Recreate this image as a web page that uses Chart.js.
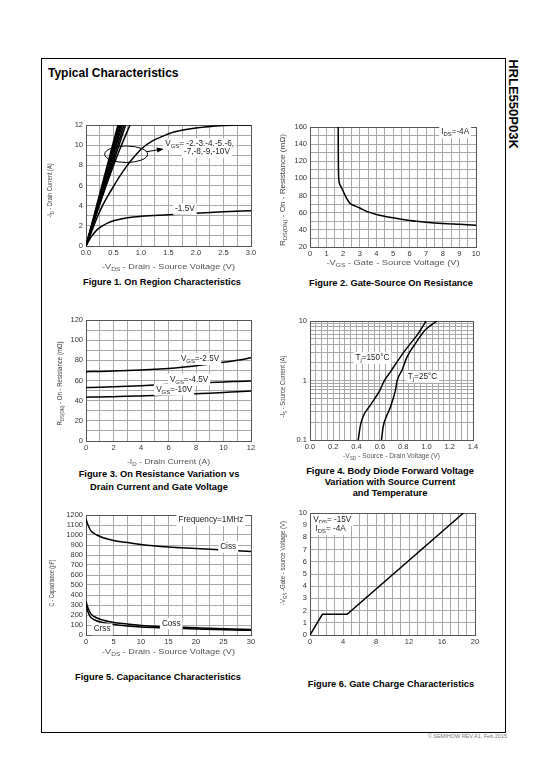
<!DOCTYPE html>
<html>
<head>
<meta charset="utf-8">
<script src="https://cdn.jsdelivr.net/npm/chart.js@4.4.1/dist/chart.umd.min.js"></script>
<style>
  body { margin: 0; background: #fff; }
  #page { position: relative; width: 540px; height: 780px; overflow: hidden; font-family: "Liberation Sans", Arial, sans-serif; }
  .abs { position: absolute; }
  .cap { position: absolute; width: 240px; text-align: center; font-weight: bold; font-size: 9.3px; line-height: 11px; color: #000; white-space: nowrap; }
  canvas { position: absolute; }
</style>
</head>
<body>
<div id="page">
  <div class="abs" style="left:41px;top:58px;width:463px;height:673px;border:1px solid #000;"></div>
  <div class="abs" style="left:48px;top:66px;font-weight:bold;font-size:12px;">Typical Characteristics</div>
  <div class="abs" style="left:513px;top:104px;transform:translate(-50%,-50%) rotate(90deg);font-weight:bold;font-size:13px;white-space:nowrap;">HRLE550P03K</div>
  <div class="abs" style="right:33px;top:733px;font-size:5.5px;color:#777;white-space:nowrap;">&copy; SEMIHOW REV.A1, Feb 2015</div>

  <div class="cap" style="left:42px;top:277px;">Figure 1. On Region Characteristics</div>
  <div class="cap" style="left:271px;top:278px;">Figure 2. Gate-Source On Resistance</div>
  <div class="cap" style="left:39px;top:468px;line-height:13px;">Figure 3. On Resistance Variation vs<br>Drain Current and Gate Voltage</div>
  <div class="cap" style="left:270px;top:466px;">Figure 4. Body Diode Forward Voltage<br>Variation with Source Current<br>and Temperature</div>
  <div class="cap" style="left:38px;top:672px;">Figure 5. Capacitance Characteristics</div>
  <div class="cap" style="left:271px;top:679px;">Figure 6. Gate Charge Characteristics</div>
</div>

<script>
// ---- Figure 1: On region (-VDS vs -ID) ----
const fig1XLabels = ['0.0', '0.5', '1.0', '1.5', '2.0', '2.5', '3.0'];
const fig1YLabels = ['0', '2', '4', '6', '8', '10', '12'];
const fig1Vds15 = [0, 0.05, 0.1, 0.2, 0.3, 0.4, 0.5, 0.75, 1.0, 1.5, 2.0, 2.5, 3.0];
const fig1Id15 = [0, 0.5, 0.95, 1.6, 2.0, 2.3, 2.5, 2.8, 2.95, 3.1, 3.25, 3.4, 3.5];
const fig1Vds2 = [0, 0.1, 0.2, 0.3, 0.4, 0.5, 0.6, 0.75, 0.9, 1.0, 1.2, 1.4, 1.6, 2.0, 2.5, 2.8, 3.0];
const fig1Id2 = [0, 1.4, 2.8, 4.0, 5.0, 5.9, 6.8, 8.0, 9.0, 9.6, 10.4, 10.9, 11.3, 11.7, 11.95, 12.0, 12.0];
const fig1Vds3 = [0, 0.2, 0.4, 0.6, 0.8];
const fig1Id3 = [0, 3.4, 6.5, 9.4, 12];
// -4V .. -10V reach 12 A at these -VDS values
const fig1SteepVdsAt12 = [0.72, 0.69, 0.66, 0.64, 0.62, 0.60, 0.58];

// ---- Figure 2: RDS(on) vs -VGS ----
const fig2XLabels = ['0', '1', '2', '3', '4', '5', '6', '7', '8', '9', '10'];
const fig2YLabels = ['20', '40', '60', '80', '100', '120', '140', '160'];
const fig2Vgs = [1.70, 1.705, 1.715, 1.74, 1.85, 2.0, 2.2, 2.4, 2.7, 3.0, 3.5, 4.0, 5.0, 6.0, 7.0, 8.0, 9.0, 10.0];
const fig2Rds = [160, 130, 110, 98, 91, 85, 77, 71, 68, 65.5, 61, 58, 54, 51, 49, 47.5, 46.5, 45.5];

// ---- Figure 3: RDS(on) vs -ID ----
const fig3XLabels = ['0', '2', '4', '6', '8', '10', '12'];
const fig3YLabels = ['0', '20', '40', '60', '80', '100', '120'];
const fig3Id = [0, 1, 2, 3, 4, 5, 6, 7, 8, 9, 10, 11, 12];
const fig3Rds25 = [68.8, 69, 69.3, 69.8, 70.4, 71.2, 72, 73.2, 74.7, 76.3, 78, 80, 82.5];
const fig3Rds45 = [53, 53.3, 53.7, 54.2, 54.8, 55.5, 56.3, 57, 57.5, 58, 58.6, 59.1, 59.6];
const fig3Rds10 = [43.5, 43.7, 44, 44.3, 44.7, 45.1, 45.6, 46.2, 46.8, 47.4, 48.1, 48.9, 49.6];

// ---- Figure 4: body diode (-VSD vs -IS, log) ----
const fig4XLabels = ['0.0', '0.2', '0.4', '0.6', '0.8', '1.0', '1.2', '1.4'];
const fig4YLabels = ['0.1', '1', '10'];
const fig4Vsd150 = [0.414, 0.434, 0.457, 0.52, 0.60, 0.634, 0.691, 0.777, 0.863, 0.92, 0.997];
const fig4Is150 = [0.1, 0.18, 0.25, 0.39, 0.68, 0.96, 1.4, 2.5, 4.2, 5.8, 10];
const fig4Vsd25 = [0.614, 0.629, 0.657, 0.691, 0.734, 0.749, 0.791, 0.834, 0.906, 0.991, 1.091];
const fig4Is25 = [0.1, 0.17, 0.25, 0.36, 0.69, 1.0, 1.5, 2.5, 4.2, 7.1, 10];

// ---- Figure 5: capacitance ----
const fig5XLabels = ['0', '5', '10', '15', '20', '25', '30'];
const fig5YLabels = ['0', '100', '200', '300', '400', '500', '600', '700', '800', '900', '1000', '1100', '1200'];
const fig5Vds = [0, 0.3, 0.7, 1, 2, 3, 5, 7.5, 10, 15, 20, 25, 30];
const fig5Ciss = [1160, 1110, 1060, 1035, 1000, 975, 945, 925, 905, 880, 865, 850, 835];
const fig5Coss = [340, 280, 230, 205, 170, 150, 125, 110, 95, 83, 72, 62, 55];
const fig5Crss = [300, 240, 190, 170, 140, 125, 105, 90, 80, 70, 60, 52, 47];

// ---- Figure 6: gate charge ----
const fig6XLabels = ['0', '4', '8', '12', '16', '20'];
const fig6YLabels = ['0', '1', '2', '3', '4', '5', '6', '7', '8', '9', '10'];
const fig6Qg = [0, 1.5, 4.5, 18.6];
const fig6Vgs = [0, 1.7, 1.7, 10];

const FONT = '"Liberation Sans", Arial, sans-serif';

function pts(xs, ys) {
    return xs.map((x, i) => ({ x: x, y: ys[i] }));
}

function curve(xs, ys, smooth) {
    return {
        data: pts(xs, ys),
        showLine: true,
        borderColor: '#000',
        borderWidth: 1.5,
        pointRadius: 0,
        fill: false,
        cubicInterpolationMode: smooth === false ? 'default' : 'monotone',
        tension: 0
    };
}

function labelFrom(list) {
    return function (v) {
        const hit = list.find(s => Math.abs(Number(s) - v) < 1e-6);
        return hit === undefined ? '' : hit;
    };
}

// text with _{subscript} parts; opt.width squeezes/stretches it to that width
function drawRich(ctx, str, x, y, size, opt) {
    opt = opt || {};
    const parts = [];
    str.split(/(_\{[^}]*\})/).forEach(p => {
        if (!p) return;
        if (p.startsWith('_{')) parts.push({ t: p.slice(2, -1), sub: true });
        else parts.push({ t: p, sub: false });
    });
    const font = sz => `${sz}px ${FONT}`;
    let w = 0;
    parts.forEach(p => {
        ctx.font = font(p.sub ? size * 0.72 : size);
        p.w = ctx.measureText(p.t).width;
        w += p.w;
    });
    const sx = opt.width ? opt.width / w : 1;
    ctx.save();
    ctx.translate(x, y);
    ctx.scale(sx, 1);
    let cx = opt.align === 'left' ? 0 : -w / 2;
    if (opt.bg) {
        ctx.fillStyle = '#fff';
        ctx.fillRect(cx - 2, -size * 0.7, w + 4, size * 1.45);
    }
    ctx.fillStyle = opt.color || '#222';
    ctx.textBaseline = 'middle';
    ctx.textAlign = 'left';
    parts.forEach(p => {
        ctx.font = font(p.sub ? size * 0.72 : size);
        ctx.fillText(p.t, cx, p.sub ? size * 0.3 : 0);
        cx += p.w;
    });
    ctx.restore();
}

const sheetText = {
    id: 'sheetText',
    afterDraw(chart, args, opts) {
        const ctx = chart.ctx;
        const a = chart.chartArea;
        const xs = chart.scales.x, ys = chart.scales.y;
        ctx.save();
        if (opts.xTitle) {
            drawRich(ctx, opts.xTitle, (a.left + a.right) / 2, a.bottom + opts.xGap, 7.5,
                { color: '#555', width: opts.xWidth });
        }
        if (opts.yTitle) {
            ctx.save();
            ctx.translate(a.left - opts.yGap, (a.top + a.bottom) / 2 + (opts.yOff || 0));
            ctx.rotate(-Math.PI / 2);
            drawRich(ctx, opts.yTitle, 0, 0, 7.5, { color: '#444', width: opts.yWidth });
            ctx.restore();
        }
        if (opts.ellipse) {
            const e = opts.ellipse;
            const cx = xs.getPixelForValue(e.x), cy = ys.getPixelForValue(e.y);
            const rx = Math.abs(xs.getPixelForValue(e.x + e.rx) - cx);
            const ry = Math.abs(ys.getPixelForValue(e.y + e.ry) - cy);
            ctx.strokeStyle = '#000';
            ctx.lineWidth = 1;
            ctx.beginPath();
            ctx.ellipse(cx, cy, rx, ry, 0, 0, Math.PI * 2);
            ctx.stroke();
        }
        if (opts.arrow) {
            const r = opts.arrow;
            const x0 = xs.getPixelForValue(r.x0), y0 = ys.getPixelForValue(r.y0);
            const x1 = xs.getPixelForValue(r.x1), y1 = ys.getPixelForValue(r.y1);
            const ang = Math.atan2(y1 - y0, x1 - x0);
            ctx.strokeStyle = '#000';
            ctx.fillStyle = '#000';
            ctx.lineWidth = 1;
            ctx.beginPath();
            ctx.moveTo(x0, y0);
            ctx.lineTo(x1, y1);
            ctx.stroke();
            ctx.beginPath();
            ctx.moveTo(x1 + 2 * Math.cos(ang), y1 + 2 * Math.sin(ang));
            ctx.lineTo(x1 - 5 * Math.cos(ang) + 2.5 * Math.sin(ang), y1 - 5 * Math.sin(ang) - 2.5 * Math.cos(ang));
            ctx.lineTo(x1 - 5 * Math.cos(ang) - 2.5 * Math.sin(ang), y1 - 5 * Math.sin(ang) + 2.5 * Math.cos(ang));
            ctx.closePath();
            ctx.fill();
        }
        (opts.notes || []).forEach(n => {
            drawRich(ctx, n.text, xs.getPixelForValue(n.x), ys.getPixelForValue(n.y), n.size || 8.2,
                { align: 'left', bg: n.bg !== false, color: '#222' });
        });
        ctx.restore();
    }
};

function axis(o) {
    return {
        type: o.type || 'linear',
        min: o.min,
        max: o.max,
        afterFit: s => {
            if (s.isHorizontal()) s.height = 30;
            else s.width = 50;
        },
        border: { display: true, color: '#555', width: 1 },
        grid: {
            drawTicks: false,
            lineWidth: 1,
            color: c => (c.index === 0 || c.index === c.scale.ticks.length - 1) ? '#555' : '#a8a8a8'
        },
        ticks: {
            stepSize: o.step,
            autoSkip: false,
            maxRotation: 0,
            padding: o.pad,
            font: { family: FONT, size: 7.5 },
            color: '#333',
            callback: labelFrom(o.labels)
        }
    };
}

// box = plot area in page pixels
function sheetChart(box, xAxis, yAxis, datasets, text) {
    const c = document.createElement('canvas');
    const w = box.r - box.l + 62, h = box.b - box.t + 38;
    c.width = w;
    c.height = h;
    c.style.left = (box.l - 50) + 'px';
    c.style.top = (box.t - 8) + 'px';
    document.getElementById('page').appendChild(c);
    return new Chart(c, {
        type: 'scatter',
        data: { datasets: datasets },
        options: {
            responsive: false,
            animation: false,
            devicePixelRatio: 1,
            layout: { padding: { left: 0, right: 12, top: 8, bottom: 0 } },
            plugins: { legend: { display: false }, tooltip: { enabled: false }, sheetText: text },
            scales: { x: axis(xAxis), y: axis(yAxis) }
        },
        plugins: [sheetText]
    });
}

// Figure 1
sheetChart({ l: 86, t: 125, r: 251, b: 246 },
    { min: 0, max: 3, step: 0.25, labels: fig1XLabels, pad: 2 },
    { min: 0, max: 12, step: 1, labels: fig1YLabels, pad: 3 },
    [curve(fig1Vds15, fig1Id15), curve(fig1Vds2, fig1Id2), curve(fig1Vds3, fig1Id3)]
        .concat(fig1SteepVdsAt12.map(v => curve([0, v], [0, 12], false))),
    {
        xTitle: '-V_{DS} - Drain - Source Voltage (V)', xGap: 21, xWidth: 133,
        yTitle: '-I_{D} - Drain Current (A)', yGap: 36, yWidth: 54, yOff: 5,
        ellipse: { x: 0.73, y: 9.1, rx: 0.39, ry: 0.82 },
        arrow: { x0: 1.1, y0: 9.35, x1: 1.38, y1: 9.6 },
        notes: [
            { x: 1.44, y: 10.1, text: 'V_{GS}= -2,-3,-4,-5,-6,' },
            { x: 1.78, y: 9.35, text: '-7,-8,-9,-10V' },
            { x: 1.62, y: 3.7, text: '-1.5V' }
        ]
    });

// Figure 2
sheetChart({ l: 310, t: 127, r: 476, b: 247 },
    { min: 0, max: 10, step: 0.5, labels: fig2XLabels, pad: 2 },
    { min: 20, max: 160, step: 10, labels: fig2YLabels, pad: 3 },
    [curve(fig2Vgs, fig2Rds)],
    {
        xTitle: '-V_{GS} - Gate - Source Voltage (V)', xGap: 16, xWidth: 133,
        yTitle: 'R_{DS(ON)} - On - Resistance (m\u03A9)', yGap: 27, yWidth: 112, yOff: 3,
        notes: [{ x: 7.9, y: 154, text: 'I_{DS}=-4A' }]
    });

// Figure 3
sheetChart({ l: 86, t: 320, r: 251, b: 441 },
    { min: 0, max: 12, step: 1, labels: fig3XLabels, pad: 2 },
    { min: 0, max: 120, step: 10, labels: fig3YLabels, pad: 3 },
    [curve(fig3Id, fig3Rds25), curve(fig3Id, fig3Rds45), curve(fig3Id, fig3Rds10)],
    {
        xTitle: '-I_{D} - Drain Current (A)', xGap: 21, xWidth: 83,
        yTitle: 'R_{DS(ON)} - On - Resistance (m\u03A9)', yGap: 26, yWidth: 84, yOff: 3,
        notes: [
            { x: 6.9, y: 81.5, text: 'V_{GS}=-2.5V' },
            { x: 6.1, y: 61, text: 'V_{GS}=-4.5V' },
            { x: 5.1, y: 51, text: 'V_{GS}=-10V' }
        ]
    });

// Figure 4
sheetChart({ l: 310, t: 321, r: 473, b: 440 },
    { min: 0, max: 1.4, step: 0.05, labels: fig4XLabels, pad: 2 },
    { type: 'logarithmic', min: 0.1, max: 10, labels: fig4YLabels, pad: 3 },
    [curve(fig4Vsd150, fig4Is150), curve(fig4Vsd25, fig4Is25)],
    {
        xTitle: '-V_{SD} - Source - Drain Voltage (V)', xGap: 16, xWidth: 97,
        yTitle: '-I_{S} - Source Current (A)', yGap: 27, yWidth: 62, yOff: 6,
        notes: [
            { x: 0.39, y: 2.4, text: 'T_{j}=150\u00B0C' },
            { x: 0.84, y: 1.16, text: 'T_{j}=25\u00B0C' }
        ]
    });

// Figure 5
sheetChart({ l: 86, t: 515, r: 251, b: 635 },
    { min: 0, max: 30, step: 2.5, labels: fig5XLabels, pad: 2 },
    { min: 0, max: 1200, step: 100, labels: fig5YLabels, pad: 3 },
    [curve(fig5Vds, fig5Ciss), curve(fig5Vds, fig5Coss), curve(fig5Vds, fig5Crss)],
    {
        xTitle: '-V_{DS} - Drain - Source Voltage (V)', xGap: 17, xWidth: 133,
        yTitle: 'C - Capacitance (pF)', yGap: 34, yWidth: 47, yOff: 8,
        notes: [
            { x: 16.8, y: 1150, text: 'Frequency=1MHz' },
            { x: 24.4, y: 883, text: 'Ciss' },
            { x: 13.8, y: 117, text: 'Coss' },
            { x: 1.4, y: 58, text: 'Crss' }
        ]
    });

// Figure 6
sheetChart({ l: 310, t: 513, r: 475, b: 635 },
    { min: 0, max: 20, step: 1, labels: fig6XLabels, pad: 2 },
    { min: 0, max: 10, step: 1, labels: fig6YLabels, pad: 3 },
    [curve(fig6Qg, fig6Vgs, false)],
    {
        yTitle: '-V_{GS} -Gate - source Voltage (V)', yGap: 27, yWidth: 84, yOff: -11,
        notes: [
            { x: 0.4, y: 9.43, text: 'V_{DS}= -15V' },
            { x: 0.4, y: 8.7, text: ' I_{DS}= -4A' }
        ]
    });
</script>
</body>
</html>
